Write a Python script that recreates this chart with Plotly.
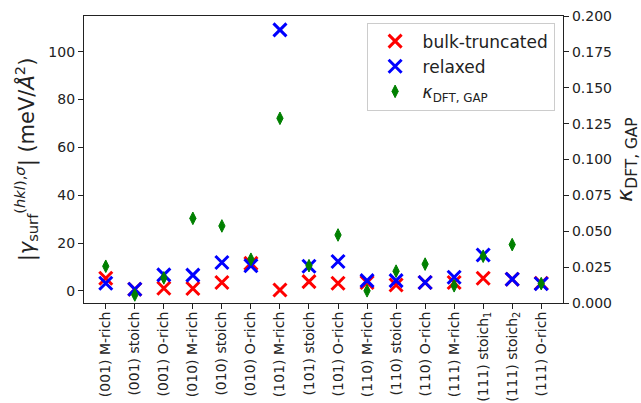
import plotly.graph_objects as go

categories = ["(001) M-rich", "(001) stoich", "(001) O-rich",
              "(010) M-rich", "(010) stoich", "(010) O-rich",
              "(101) M-rich", "(101) stoich", "(101) O-rich",
              "(110) M-rich", "(110) stoich", "(110) O-rich",
              "(111) M-rich", "(111) stoich<sub>1</sub>", "(111) stoich<sub>2</sub>", "(111) O-rich"]
bulk_truncated = [5.3, 0.7, 1.1, 1.0, 3.5, 11.5, 0.4, 3.9, 3.2, 3.5, 2.5, 3.5, 3.5, 5.3, 4.9, 3.2]
relaxed = [3.2, 0.7, 6.7, 6.6, 11.9, 10.5, 109.1, 10.3, 12.3, 4.3, 4.3, 3.5, 5.7, 15.0, 4.9, 3.0]
kappa = [0.0256, 0.0056, 0.0175, 0.0590, 0.0537, 0.0305, 0.1287, 0.0260, 0.0474,
         0.0085, 0.0222, 0.0271, 0.0120, 0.0326, 0.0407, 0.0135]
left_ticks = [0, 20, 40, 60, 80, 100]
right_ticks = [0.0, 0.025, 0.05, 0.075, 0.1, 0.125, 0.15, 0.175, 0.2]

xs = list(range(len(categories)))
FONT = "DejaVu Sans"
INK = "#222"

fig = go.Figure()
fig.add_trace(go.Scatter(
    x=xs, y=bulk_truncated, mode="markers", name="bulk-truncated",
    marker=dict(symbol="x-thin", size=13, color="red", line=dict(color="red", width=3)),
))
fig.add_trace(go.Scatter(
    x=xs, y=relaxed, mode="markers", name="relaxed",
    marker=dict(symbol="x-thin", size=13, color="blue", line=dict(color="blue", width=3)),
))
fig.add_trace(go.Scatter(
    x=xs, y=kappa, mode="markers", name="<i>κ</i><sub>DFT, GAP</sub>", yaxis="y2",
    marker=dict(symbol="diamond-tall", size=9, color="green", line=dict(color="green", width=1)),
))

axis_common = dict(showline=True, linecolor=INK, linewidth=1.2, mirror=False,
                   ticks="outside", ticklen=5, tickcolor=INK, tickwidth=1.2,
                   showgrid=False, zeroline=False, automargin=False,
                   tickfont=dict(family=FONT, size=14, color=INK))

fig.update_layout(
    width=641, height=403,
    margin=dict(l=84, r=78, t=16, b=100),
    paper_bgcolor="white", plot_bgcolor="white",
    font=dict(family=FONT, color=INK),
    showlegend=True,
    legend=dict(x=0.59, y=0.977, xanchor="left", yanchor="top",
                bgcolor="rgba(255,255,255,0.8)", bordercolor="#ccc", borderwidth=1,
                itemwidth=45,
                font=dict(family=FONT, size=17, color=INK)),
    xaxis=dict(axis_common, range=[-0.75, 15.75], tickmode="array", tickvals=xs,
               ticktext=categories, tickangle=-90, mirror=True, ticklabelstandoff=-3),
    yaxis=dict(axis_common, range=[-5.05, 114.9], tickmode="array", tickvals=left_ticks,
               title=dict(text="|<i>γ</i><sub>surf</sub><sup>(<i>hkl</i>),<i>σ</i></sup>| (meV/<i>Å</i><sup>2</sup>)",
                          font=dict(family=FONT, size=21, color=INK), standoff=8)),
    yaxis2=dict(axis_common, range=[0, 0.2], overlaying="y", side="right",
                tickmode="array", tickvals=right_ticks, tickformat=".3f",
                title=dict(text="<i>κ</i><sub>DFT, GAP</sub>",
                           font=dict(family=FONT, size=22, color=INK), standoff=0)),
)

fig.write_html("out.html", config={"displayModeBar": False},
               post_script="document.body.style.margin='0';document.body.style.overflow='hidden';")
